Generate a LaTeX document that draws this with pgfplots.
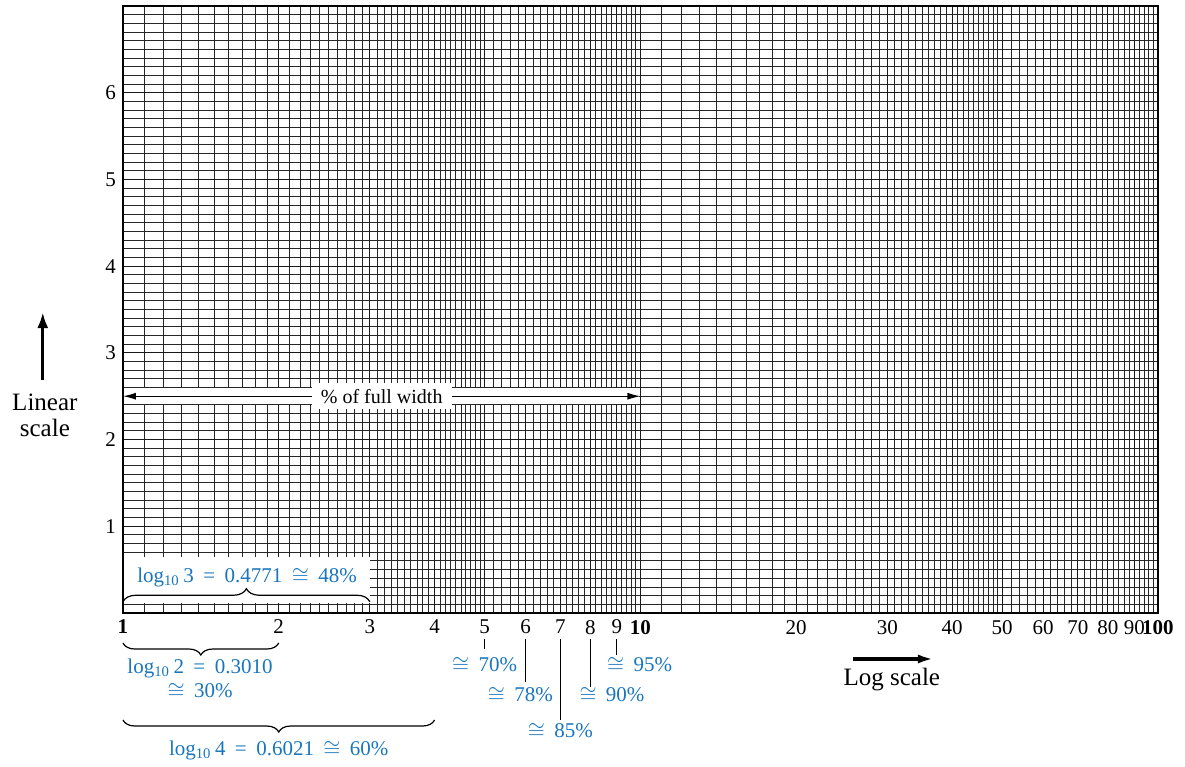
\documentclass[border=0pt]{standalone}
\usepackage{fontspec}
\setmainfont{Liberation Serif}
\usepackage{pgfplots}
\pgfplotsset{compat=1.18}
\usetikzlibrary{arrows.meta,decorations.pathreplacing}
\definecolor{annblue}{RGB}{25,118,190}
\newcommand\sep{\hspace{0.45em}}
\newcommand\lgtxt[1]{log\textsubscript{10}\,#1}

\begin{document}
\begin{tikzpicture}
\begin{axis}[
    scale only axis,
    width=517.5pt, height=303.5pt,
    xmode=log, xmin=1, xmax=100, ymin=0, ymax=7,
    xtick={1,2,3,4,5,6,7,8,9,10,20,30,40,50,60,70,80,90,100},
    xticklabels={\textbf{1},2,3,4,5,6,7,8,9,\textbf{10},20,30,40,50,60,70,80,90,\textbf{100}},
    minor xtick={1.1,1.2,1.3,1.4,1.5,1.6,1.7,1.8,1.9,
                 2.1,2.2,2.3,2.4,2.5,2.6,2.7,2.8,2.9,
                 3.1,3.2,3.3,3.4,3.5,3.6,3.7,3.8,3.9,
                 4.1,4.2,4.3,4.4,4.5,4.6,4.7,4.8,4.9,
                 5.2,5.4,5.6,5.8,6.2,6.4,6.6,6.8,7.2,7.4,7.6,7.8,
                 8.2,8.4,8.6,8.8,9.2,9.4,9.6,9.8,
                 11,12,13,14,15,16,17,18,19,
                 21,22,23,24,25,26,27,28,29,
                 31,32,33,34,35,36,37,38,39,
                 41,42,43,44,45,46,47,48,49,
                 52,54,56,58,62,64,66,68,72,74,76,78,
                 82,84,86,88,92,94,96,98},
    ytick={1,2,3,4,5,6},
    yticklabels={1,2,3,4,5,6},
    minor ytick={0,0.1,...,7},
    grid=both,
    major grid style={black!90, line width=0.55pt},
    minor grid style={black!85, line width=0.5pt},
    major tick length=0pt, minor tick length=0pt,
    axis line style={black, line width=0.8pt},
    tick label style={font=\fontsize{10.5}{12}\selectfont},
    clip=false,
]
% page size
\path (rel axis cs:-0.1188,-0.2521) rectangle (rel axis cs:1.0261,1.0099);

% % of full width
\fill[white] (1.006,2.41) rectangle (9.95,2.59);
\draw[line width=0.6pt, {Latex[length=6.5pt,width=3.5pt]}-{Latex[length=6.5pt,width=3.5pt]}]
    (1,2.5) -- (10,2.5);
\node[fill=white, inner xsep=4.5pt, inner ysep=3pt, font=\fontsize{10}{12}\selectfont]
    at (3.162,2.5) {\% of full width};

% log10 3 box
\fill[white] (1.006,0.115) rectangle (3,0.645);
\draw[line width=0.6pt, decorate, decoration={brace, amplitude=6.5pt}] (1,0.13) -- (3,0.13);
\begin{scope}[every node/.style={annblue, inner sep=1pt, font=\fontsize{10.5}{12}\selectfont}]
\node at (1.737,0.415) {\lgtxt{3}\sep=\sep0.4771\sep$\cong$\sep48\%};
\node at (1.409,-0.634) {\lgtxt{2}\sep=\sep0.3010};
\node at (1.409,-0.90) {$\cong$\sep30\%};
\node at (2,-1.58) {\lgtxt{4}\sep=\sep0.6021\sep$\cong$\sep60\%};
\node at (5,-0.60) {$\cong$\sep70\%};
\node at (5.86,-0.946) {$\cong$\sep78\%};
\node at (7,-1.36) {$\cong$\sep85\%};
\node at (8.81,-0.946) {$\cong$\sep90\%};
\node at (9.96,-0.60) {$\cong$\sep95\%};
\end{scope}

% braces below the axis
\draw[line width=0.6pt, decorate, decoration={brace, amplitude=6pt}] (2,-0.346) -- (1,-0.346);
\draw[line width=0.6pt, decorate, decoration={brace, amplitude=6pt}] (4,-1.234) -- (1,-1.234);

% leader lines
\draw[line width=0.6pt] (5,-0.30) -- (5,-0.415);
\draw[line width=0.6pt] (6,-0.30) -- (6,-0.796);
\draw[line width=0.6pt] (7,-0.30) -- (7,-1.234);
\draw[line width=0.6pt] (8,-0.30) -- (8,-0.853);
\draw[line width=0.6pt] (9,-0.30) -- (9,-0.484);

% scale captions
\draw[line width=1.6pt, -{Latex[length=8pt,width=5.5pt]}] (0.700,2.687) -- (0.700,3.471);
\node[align=center, font=\fontsize{12.5}{13}\selectfont] at (0.7065,2.28) {Linear\\scale};
\draw[line width=1.7pt, -{Latex[length=8pt,width=4.5pt]}] (25.7,-0.53) -- (36.9,-0.53);
\node[font=\fontsize{12.5}{13}\selectfont] at (30.6,-0.77) {Log scale};
\end{axis}
\end{tikzpicture}
\end{document}
